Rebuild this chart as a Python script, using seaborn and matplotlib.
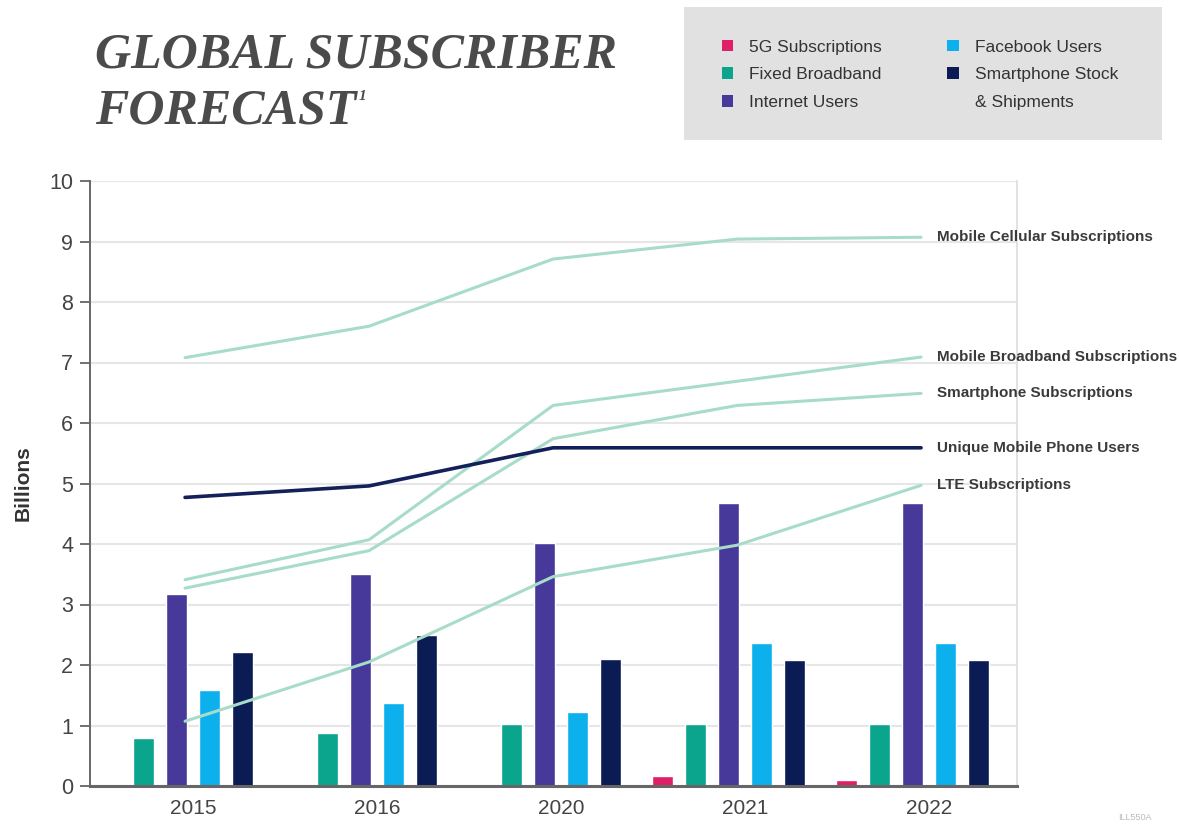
import numpy as np
import pandas as pd
import seaborn as sns
import matplotlib.pyplot as plt
from matplotlib.patches import Patch, Rectangle
from matplotlib.transforms import ScaledTranslation

# Data (billions)
years = ["2015", "2016", "2020", "2021", "2022"]

fiveg = [np.nan, np.nan, np.nan, 0.16, 0.10]
fixed_broadband = [0.80, 0.88, 1.02, 1.02, 1.02]
internet_users = [3.18, 3.50, 4.02, 4.67, 4.67]
facebook_users = [1.59, 1.37, 1.23, 2.37, 2.37]
smartphone_stock = [2.21, 2.49, 2.10, 2.09, 2.09]

mobile_cellular = [7.08, 7.60, 8.71, 9.04, 9.07]
mobile_broadband = [3.41, 4.07, 6.29, 6.69, 7.09]
smartphone_subs = [3.27, 3.89, 5.74, 6.29, 6.49]
unique_mobile = [4.77, 4.96, 5.59, 5.59, 5.59]
lte_subs = [1.07, 2.05, 3.46, 3.98, 4.97]

bar_names = ["5G Subscriptions", "Fixed Broadband", "Internet Users",
             "Facebook Users", "Smartphone Stock & Shipments"]
bar_values = [fiveg, fixed_broadband, internet_users, facebook_users, smartphone_stock]
bar_colors = ["#e01f68", "#0ba58e", "#46399a", "#0cb0ec", "#0b1b54"]

line_names = ["Mobile Cellular Subscriptions", "Mobile Broadband Subscriptions",
              "Smartphone Subscriptions", "Unique Mobile Phone Users", "LTE Subscriptions"]
line_values = [mobile_cellular, mobile_broadband, smartphone_subs, unique_mobile, lte_subs]
line_colors = ["#a7dcc8", "#a7dcc8", "#a7dcc8", "#13205a", "#a7dcc8"]

# long-form tables
bars = pd.DataFrame(
    [(n, y, v) for n, vals in zip(bar_names, bar_values) for y, v in zip(years, vals)],
    columns=["series", "year", "value"],
).dropna()

sns.set_theme(style="white")
plt.rcParams["font.family"] = ["Liberation Sans", "DejaVu Sans"]

W, H = 1179, 824
fig = plt.figure(figsize=(W / 100, H / 100), dpi=100)
ax = fig.add_axes([90 / W, 1 - 786 / H, (1017 - 90) / W, (786 - 181) / H])

hue_order = bar_names + ["spacer"]
palette = dict(zip(hue_order, bar_colors + ["#ffffff"]))
sns.barplot(data=bars, x="year", y="value", hue="series", order=years,
            hue_order=hue_order, palette=palette, width=1.076, gap=0.38,
            saturation=1, errorbar=None, legend=False, ax=ax, zorder=2)

# lines sit slightly left of the category centres
shift = ax.transData + ScaledTranslation(-8 / 100, 0, fig.dpi_scale_trans)
pos = np.arange(len(years))
for name, vals, col in zip(line_names, line_values, line_colors):
    lw = 2.6 if col == "#13205a" else 2.2
    sns.lineplot(x=pos, y=vals, color=col, linewidth=lw, ax=ax,
                 transform=shift, zorder=3)
    ax.annotate(name, xy=(pos[-1], vals[-1]), xytext=(8, 0),
                textcoords="offset pixels", ha="left", va="center",
                fontsize=11, fontweight="bold", color="#3a3a3a",
                annotation_clip=False)

ax.set_xlim(-0.56, 4.478)
ax.set_ylim(0, 10)
ax.set_yticks(range(0, 11))
ax.set_xlabel("")
ax.set_ylabel("Billions", fontsize=15, fontweight="bold", color="#333333", labelpad=12)
ax.grid(axis="y", color="#e6e6e6", linewidth=1.5, zorder=0)
ax.set_axisbelow(True)

ax.spines["top"].set_visible(False)
ax.spines["right"].set_color("#dddddd")
ax.spines["right"].set_linewidth(1.2)
ax.spines["left"].set_color("#666666")
ax.spines["left"].set_linewidth(1.4)
ax.spines["bottom"].set_color("#666666")
ax.spines["bottom"].set_linewidth(2.2)

ax.tick_params(axis="y", left=True, length=7, width=1.3, color="#666666",
               labelsize=15.5, labelcolor="#444444", pad=5)
ax.tick_params(axis="x", bottom=False, labelsize=15, labelcolor="#444444", pad=3)

# legend box
fig.add_artist(Rectangle((684 / W, 1 - 140 / H), (1162 - 684) / W, (140 - 7) / H,
                         transform=fig.transFigure, facecolor="#e1e1e1",
                         edgecolor="none", zorder=0))
handles = [Patch(facecolor=c, edgecolor="none") for c in bar_colors]
handles.append(Patch(facecolor="none", edgecolor="none"))
labels = ["5G Subscriptions", "Fixed Broadband", "Internet Users",
          "Facebook Users", "Smartphone Stock", "& Shipments"]
fig.legend(handles, labels, ncol=2, loc="upper left",
           bbox_to_anchor=(713 / W, 1 - 31 / H), frameon=False, borderpad=0,
           fontsize=12.5, handlelength=0.65, handleheight=0.65,
           handletextpad=0.95, columnspacing=3.75, labelspacing=0.73,
           labelcolor="#333333")

# title
title_kw = dict(fontsize=36, fontweight="bold", fontstyle="italic",
                family="Liberation Serif", color="#4b4b4b", va="baseline")
fig.text(95 / W, 1 - 68 / H, "GLOBAL SUBSCRIBER", **title_kw)
t2 = fig.text(95 / W, 1 - 124 / H, "FORECAST", **title_kw)
fig.canvas.draw()
bb = t2.get_window_extent()
fig.text(bb.x1 / W + 0.002, 1 - 100 / H, "1", fontsize=11, fontweight="bold",
         fontstyle="italic", family="Liberation Serif", color="#4b4b4b", va="baseline")

fig.text(1118 / W, 1 - 818 / H, "ILL550A", fontsize=6.5, color="#bbbbbb", va="center")

fig.savefig("out.png", dpi=100)
